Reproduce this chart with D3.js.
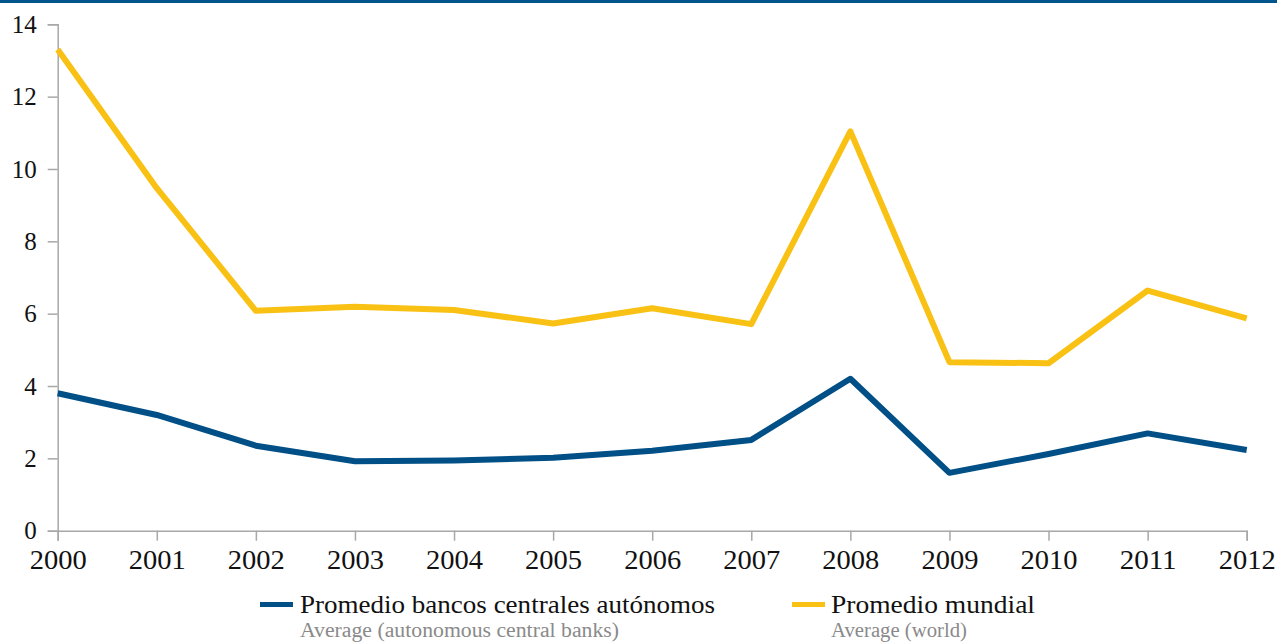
<!DOCTYPE html>
<html>
<head>
<meta charset="utf-8">
<script src="https://cdn.jsdelivr.net/npm/d3@7"></script>
<style>
  html, body { margin: 0; padding: 0; background: #fff; }
  svg { display: block; }
</style>
</head>
<body>
<svg id="chart" width="1277" height="643"></svg>
<script>
const years = [2000, 2001, 2002, 2003, 2004, 2005, 2006, 2007, 2008, 2009, 2010, 2011, 2012];
const autonomousAvg = [3.80, 3.20, 2.35, 1.92, 1.94, 2.02, 2.21, 2.51, 4.20, 1.60, 2.12, 2.69, 2.23];
const worldAvg = [13.30, 9.47, 6.08, 6.19, 6.10, 5.73, 6.15, 5.71, 11.04, 4.66, 4.63, 6.64, 5.87];
const yTicks = [0, 2, 4, 6, 8, 10, 12, 14];
const seriesNames = ["Promedio bancos centrales autónomos", "Promedio mundial"];
const seriesSubNames = ["Average (autonomous central banks)", "Average (world)"];

const FONT = "'Liberation Serif', 'Times New Roman', Times, serif";
const svg = d3.select("#chart");
const colors = ["#004f86", "#f9c114"];
const axisColor = "#a8a8a8";

svg.append("rect").attr("x", 0).attr("y", 0).attr("width", 1277).attr("height", 3).attr("fill", "#00558c");

const x = d3.scaleLinear().domain([2000, 2012]).range([57.7, 1246.7]);
const y = d3.scaleLinear().domain([0, 14]).range([530.7, 24.3]);

const xAxis = svg.append("g").attr("transform", `translate(0,${y(0)})`)
  .call(d3.axisBottom(x).tickValues(years).tickFormat(d3.format("d")).tickSize(10).tickPadding(8));
xAxis.attr("font-family", null).attr("font-size", null);
xAxis.select(".domain").attr("stroke", axisColor).attr("stroke-width", 1.5);
xAxis.selectAll(".tick line").attr("stroke", axisColor).attr("stroke-width", 1.5);
xAxis.selectAll(".tick text")
  .style("font-family", FONT).style("font-size", "27px").attr("fill", "#111").attr("dy", "0.75em")
  .attr("textLength", 57).attr("lengthAdjust", "spacingAndGlyphs");

const yAxis = svg.append("g").attr("transform", `translate(${x(2000)},0)`)
  .call(d3.axisLeft(y).tickValues(yTicks).tickFormat(d3.format("d")).tickSize(10).tickPadding(11));
yAxis.attr("font-family", null).attr("font-size", null);
yAxis.select(".domain").attr("stroke", axisColor).attr("stroke-width", 1.5);
yAxis.selectAll(".tick line").attr("stroke", axisColor).attr("stroke-width", 1.5);
yAxis.selectAll(".tick text")
  .style("font-family", FONT).style("font-size", "25px").attr("fill", "#111").attr("dy", "0.33em");

const line = d3.line().x((d, i) => x(years[i])).y(d => y(d));
[[worldAvg, 1], [autonomousAvg, 0]].forEach(([s, idx]) => {
  svg.append("path").datum(s)
    .attr("fill", "none")
    .attr("stroke", colors[idx])
    .attr("stroke-width", 6)
    .attr("stroke-linejoin", "round")
    .attr("d", line);
});

const legendItems = [
  { sw: 260, tx: 300, w1: 415, w2: 319 },
  { sw: 792, tx: 831, w1: 204, w2: 136 }
];
legendItems.forEach((it, i) => {
  svg.append("rect").attr("x", it.sw).attr("y", 602).attr("width", 33).attr("height", 5).attr("fill", colors[i]);
  svg.append("text").attr("x", it.tx).attr("y", 613)
    .style("font-family", FONT).style("font-size", "26px").attr("fill", "#111")
    .attr("textLength", it.w1).attr("lengthAdjust", "spacingAndGlyphs")
    .text(seriesNames[i]);
  svg.append("text").attr("x", it.tx).attr("y", 637)
    .style("font-family", FONT).style("font-size", "20px").attr("fill", "#8a8a8a")
    .attr("textLength", it.w2).attr("lengthAdjust", "spacingAndGlyphs")
    .text(seriesSubNames[i]);
});
</script>
</body>
</html>
